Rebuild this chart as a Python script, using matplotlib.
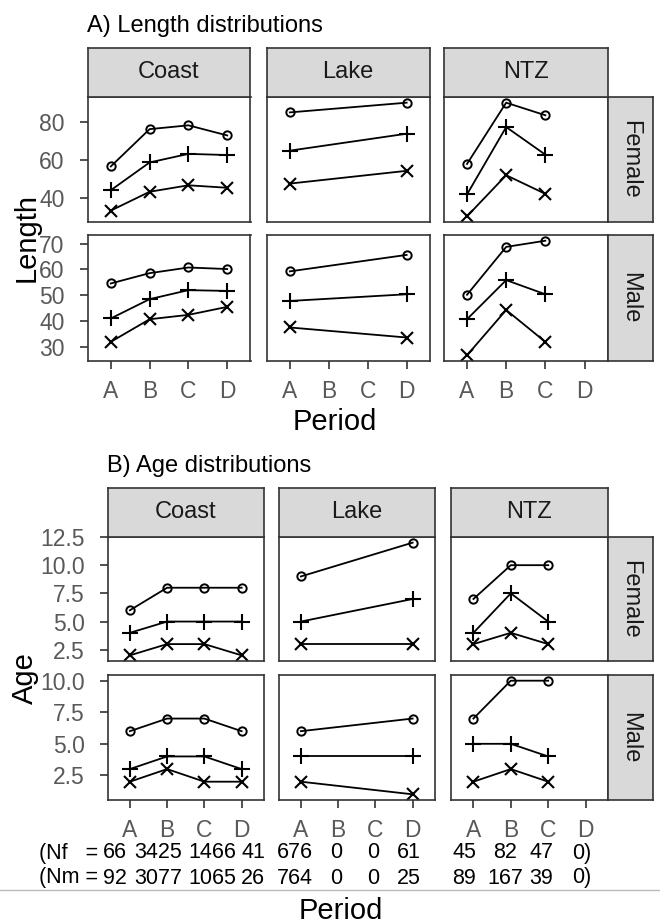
import matplotlib
matplotlib.use('Agg')
import matplotlib.pyplot as plt
from matplotlib.ticker import FormatStrFormatter

plt.rcParams['font.family'] = ['Liberation Sans', 'DejaVu Sans']

periods = ['A', 'B', 'C', 'D']
sites = ['Coast', 'Lake', 'NTZ']
sexes = ['Female', 'Male']

# one entry per observed site/period
obs_site = ['Coast', 'Coast', 'Coast', 'Coast', 'Lake', 'Lake', 'NTZ', 'NTZ', 'NTZ']
obs_period = ['A', 'B', 'C', 'D', 'A', 'D', 'A', 'B', 'C']

# Length: upper (o), middle (+), lower (x)
len_f_hi = [56.8, 76.4, 78.4, 73.1, 85.2, 90.3, 58.1, 90.3, 83.7]
len_f_mid = [44.3, 58.9, 63.4, 62.8, 65.1, 74.0, 42.1, 77.5, 63.0]
len_f_lo = [33.6, 43.5, 46.9, 45.6, 47.8, 54.5, 30.6, 52.2, 42.4]
len_m_hi = [54.5, 58.5, 60.7, 60.1, 59.2, 65.6, 50.1, 68.7, 71.1]
len_m_mid = [40.9, 48.4, 51.9, 51.6, 47.7, 50.3, 40.6, 55.8, 50.3]
len_m_lo = [31.8, 40.6, 42.3, 45.4, 37.4, 33.5, 26.6, 44.2, 31.8]

# Age: upper (o), middle (+), lower (x)
age_f_hi = [6, 8, 8, 8, 9, 12, 7, 10, 10]
age_f_mid = [4, 5, 5, 5, 5, 7, 4, 7.5, 5]
age_f_lo = [2, 3, 3, 2, 3, 3, 3, 4, 3]
age_m_hi = [6, 7, 7, 6, 6, 7, 7, 10, 10]
age_m_mid = [3, 4, 4, 3, 4, 4, 5, 5, 4]
age_m_lo = [2, 3, 2, 2, 2, 1, 2, 3, 2]

len_f_ticks = [40, 60, 80]
len_m_ticks = [30, 40, 50, 60, 70]
age_f_ticks = [2.5, 5.0, 7.5, 10.0, 12.5]
age_m_ticks = [2.5, 5.0, 7.5, 10.0]

# sample sizes per site/period (Coast A-D, Lake A-D, NTZ A-D)
n_female = [66, 3425, 1466, 41, 676, 0, 0, 61, 45, 82, 47, 0]
n_male = [92, 3077, 1065, 26, 764, 0, 0, 25, 89, 167, 39, 0]

W, H = 660, 924
fig = plt.figure(figsize=(W / 100, H / 100), dpi=100)
EDGE = '#333333'
STRIP = '#D9D9D9'


def box(x0, y0, x1, y1):
    return [x0 / W, 1 - y1 / H, (x1 - x0) / W, (y1 - y0) / H]


def strip_axes(x0, y0, x1, y1, label, rot):
    s = fig.add_axes(box(x0, y0, x1, y1))
    s.set_facecolor(STRIP)
    s.set_xticks([])
    s.set_yticks([])
    for sp in s.spines.values():
        sp.set_color(EDGE)
        sp.set_linewidth(1.2)
    s.text(0.5, 0.5, label, transform=s.transAxes, ha='center', va='center',
           rotation=rot, fontsize=17, color='#1A1A1A')


def facet_block(cols, rows, strip_y, series, ticks, fmt):
    for r, (y0, y1) in enumerate(rows):
        hi, mid, lo = series[r]
        vals = hi + mid + lo
        lo_lim, hi_lim = min(vals), max(vals)
        pad = 0.05 * (hi_lim - lo_lim)
        for c, (x0, x1) in enumerate(cols):
            ax = fig.add_axes(box(x0, y0, x1, y1))
            idx = [i for i, s in enumerate(obs_site) if s == sites[c]]
            xs = [periods.index(obs_period[i]) + 1 for i in idx]
            ax.plot(xs, [hi[i] for i in idx], '-o', color='black', lw=1.3,
                    ms=6, mfc='none', mew=1.4)
            ax.plot(xs, [mid[i] for i in idx], '-+', color='black', lw=1.3,
                    ms=12, mew=1.5)
            ax.plot(xs, [lo[i] for i in idx], '-x', color='black', lw=1.3,
                    ms=9, mew=1.5)
            ax.set_xlim(0.4, 4.6)
            ax.set_ylim(lo_lim - pad, hi_lim + pad)
            ax.set_xticks(range(1, 5))
            ax.set_xticklabels(periods)
            ax.set_yticks(ticks[r])
            ax.yaxis.set_major_formatter(FormatStrFormatter(fmt))
            ax.tick_params(labelsize=16.5, labelcolor='#595959', color=EDGE,
                           length=5.5, width=1.2)
            ax.tick_params(axis='y', pad=11)
            ax.tick_params(axis='x', pad=8)
            if r == 0:
                ax.tick_params(axis='x', bottom=False, labelbottom=False)
            if c > 0:
                ax.tick_params(axis='y', left=False, labelleft=False)
            for sp in ax.spines.values():
                sp.set_color(EDGE)
                sp.set_linewidth(1.2)
        strip_axes(cols[-1][1], y0, cols[-1][1] + 45, y1, sexes[r], -90)
    for c, (x0, x1) in enumerate(cols):
        strip_axes(x0, strip_y, x1, rows[0][0], sites[c], 0)


# A) Length
cols_a = [(87.5, 250.5), (266.5, 430), (443.5, 608)]
rows_a = [(97, 222), (235, 361)]
facet_block(cols_a, rows_a, 48,
            [(len_f_hi, len_f_mid, len_f_lo), (len_m_hi, len_m_mid, len_m_lo)],
            [len_f_ticks, len_m_ticks], '%d')
fig.text(87 / W, 1 - 32 / H, 'A) Length distributions', fontsize=17, va='baseline')
fig.text(27 / W, 1 - 238 / H, 'Length', fontsize=21, rotation=90,
         ha='center', va='center')
fig.text(335 / W, 1 - 422 / H, 'Period', fontsize=21, ha='center', va='center')

# B) Age
cols_b = [(107.5, 264), (278.5, 435), (451, 608)]
rows_b = [(537, 661), (675, 800)]
facet_block(cols_b, rows_b, 488,
            [(age_f_hi, age_f_mid, age_f_lo), (age_m_hi, age_m_mid, age_m_lo)],
            [age_f_ticks, age_m_ticks], '%.1f')
fig.text(107 / W, 1 - 472 / H, 'B) Age distributions', fontsize=17, va='baseline')
fig.text(25 / W, 1 - 678 / H, 'Age', fontsize=21, rotation=90,
         ha='center', va='center')

# sample size rows
count_x = [115, 158, 212, 253, 295, 336, 373, 409, 464, 505, 541, 582]
for label, counts, yc in [('(Nf   =', n_female, 853), ('(Nm =', n_male, 878)]:
    fig.text(39 / W, 1 - yc / H, label, fontsize=15.5, va='center')
    for k, (xc, n) in enumerate(zip(count_x, counts)):
        txt = str(n) + (')' if k == len(counts) - 1 else '')
        fig.text(xc / W, 1 - yc / H, txt, fontsize=15.5, ha='center', va='center')

fig.add_artist(plt.Line2D([0, 1], [1 - 890 / H, 1 - 890 / H], color='#BBBBBB', lw=1))
fig.text(341 / W, 1 - 919 / H, 'Period', fontsize=21, ha='center', va='baseline')

fig.savefig('out.png', dpi=100)
